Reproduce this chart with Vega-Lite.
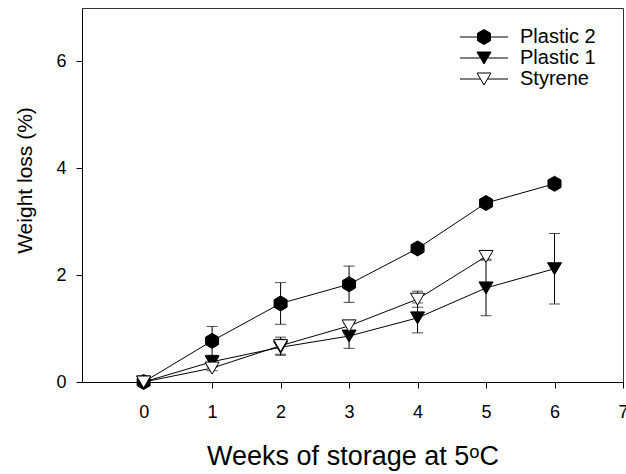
{
  "$schema": "https://vega.github.io/schema/vega-lite/v6.json",
  "width": 541,
  "height": 374,
  "autosize": {"type": "none"},
  "padding": {"left": 82, "top": 8, "right": 3, "bottom": 92},
  "background": "white",
  "config": {
    "font": "Liberation Sans",
    "view": {"stroke": "#333333", "strokeWidth": 1}
  },
  "data": {
    "values": [
      {"series": "Plastic 2", "week": 0, "mean": 0},
      {"series": "Plastic 2", "week": 1, "mean": 0.77, "lo": 0.50, "hi": 1.04},
      {"series": "Plastic 2", "week": 2, "mean": 1.47, "lo": 1.08, "hi": 1.86},
      {"series": "Plastic 2", "week": 3, "mean": 1.83, "lo": 1.49, "hi": 2.17},
      {"series": "Plastic 2", "week": 4, "mean": 2.50, "lo": 2.46, "hi": 2.54},
      {"series": "Plastic 2", "week": 5, "mean": 3.35, "lo": 3.31, "hi": 3.39},
      {"series": "Plastic 2", "week": 6, "mean": 3.71, "lo": 3.67, "hi": 3.75},
      {"series": "Plastic 1", "week": 0, "mean": 0},
      {"series": "Plastic 1", "week": 1, "mean": 0.38, "lo": 0.28, "hi": 0.48},
      {"series": "Plastic 1", "week": 2, "mean": 0.65, "lo": 0.50, "hi": 0.80},
      {"series": "Plastic 1", "week": 3, "mean": 0.86, "lo": 0.63, "hi": 1.09},
      {"series": "Plastic 1", "week": 4, "mean": 1.20, "lo": 0.92, "hi": 1.48},
      {"series": "Plastic 1", "week": 5, "mean": 1.76, "lo": 1.24, "hi": 2.28},
      {"series": "Plastic 1", "week": 6, "mean": 2.12, "lo": 1.46, "hi": 2.78},
      {"series": "Styrene", "week": 0, "mean": 0},
      {"series": "Styrene", "week": 1, "mean": 0.26, "lo": 0.21, "hi": 0.31},
      {"series": "Styrene", "week": 2, "mean": 0.68, "lo": 0.52, "hi": 0.84},
      {"series": "Styrene", "week": 3, "mean": 1.05, "lo": 0.95, "hi": 1.15},
      {"series": "Styrene", "week": 4, "mean": 1.55, "lo": 1.40, "hi": 1.70},
      {"series": "Styrene", "week": 5, "mean": 2.35, "lo": 2.30, "hi": 2.40}
    ]
  },
  "encoding": {
    "x": {
      "field": "week",
      "type": "quantitative",
      "scale": {"domain": [-0.9, 7], "nice": false, "zero": false},
      "axis": {
        "title": "Weeks of storage at 5ᵒC",
        "values": [0, 1, 2, 3, 4, 5, 6, 7],
        "grid": false,
        "domainColor": "black",
        "tickColor": "black",
        "tickSize": 6,
        "labelFontSize": 18,
        "labelPadding": 15,
        "labelColor": "black",
        "labelFlush": false,
        "labelOverlap": false,
        "titleFontSize": 27,
        "titleFontWeight": "normal",
        "titleColor": "black",
        "titleY": 82,
        "titleBaseline": "alphabetic"
      }
    },
    "y": {
      "field": "mean",
      "type": "quantitative",
      "title": "Weight loss (%)",
      "scale": {"domain": [0, 7], "nice": false},
      "axis": {
        "values": [0, 2, 4, 6],
        "grid": false,
        "domainColor": "black",
        "tickColor": "black",
        "tickSize": 6,
        "labelFontSize": 18,
        "labelPadding": 10,
        "labelColor": "black",
        "labelFlush": false,
        "titleFontSize": 21,
        "titleFontWeight": "normal",
        "titleColor": "black",
        "titleX": -51,
        "titleY": 172,
        "titleBaseline": "alphabetic"
      }
    }
  },
  "layer": [
    {
      "mark": {"type": "line", "strokeWidth": 1},
      "encoding": {
        "stroke": {
          "field": "series",
          "type": "nominal",
          "scale": {
            "domain": ["Plastic 2", "Plastic 1", "Styrene"],
            "range": ["black", "black", "black"]
          },
          "legend": {
            "orient": "none",
            "legendX": 392,
            "legendY": 19,
            "title": null,
            "padding": 0,
            "labelFontSize": 20,
            "labelColor": "black",
            "labelOffset": 26,
            "rowPadding": 1,
            "symbolSize": 225,
            "symbolStrokeWidth": 1,
            "symbolStrokeColor": "black",
            "symbolType": {"expr": "datum.value === 'Plastic 2' ? 'M-3.2,0H-0.866M0.866,0H3.2M0,-1L0.866,-0.5L0.866,0.5L0,1L-0.866,0.5L-0.866,-0.5Z' : 'M-3.2,0H-0.467M0.467,0H3.2M-0.933,-0.8L0.933,-0.8L0,0.8Z'"},
            "symbolFillColor": {"expr": "datum.value === 'Styrene' ? 'white' : 'black'"}
          }
        }
      }
    },
    {
      "transform": [{"filter": "isValid(datum.lo)"}],
      "mark": {"type": "rule", "color": "black", "strokeWidth": 1},
      "encoding": {
        "y": {"field": "lo", "type": "quantitative", "title": "Weight loss (%)"},
        "y2": {"field": "hi"}
      }
    },
    {
      "transform": [{"filter": "isValid(datum.lo)"}],
      "mark": {"type": "tick", "orient": "horizontal", "color": "black", "thickness": 1, "size": 11},
      "encoding": {
        "y": {"field": "lo", "type": "quantitative", "title": "Weight loss (%)"}
      }
    },
    {
      "transform": [{"filter": "isValid(datum.hi)"}],
      "mark": {"type": "tick", "orient": "horizontal", "color": "black", "thickness": 1, "size": 11},
      "encoding": {
        "y": {"field": "hi", "type": "quantitative", "title": "Weight loss (%)"}
      }
    },
    {
      "transform": [{"filter": "datum.series === 'Plastic 2'"}],
      "mark": {"type": "point", "shape": "M0,-1L0.866,-0.5L0.866,0.5L0,1L-0.866,0.5L-0.866,-0.5Z", "filled": true, "fill": "black", "opacity": 1, "stroke": "black", "strokeWidth": 1, "size": 225}
    },
    {
      "transform": [{"filter": "datum.series === 'Plastic 1'"}],
      "mark": {"type": "point", "shape": "M-0.933,-0.8L0.933,-0.8L0,0.8Z", "filled": true, "fill": "black", "opacity": 1, "stroke": "black", "strokeWidth": 1, "size": 225}
    },
    {
      "transform": [{"filter": "datum.series === 'Styrene'"}],
      "mark": {"type": "point", "shape": "M-0.933,-0.8L0.933,-0.8L0,0.8Z", "filled": true, "fill": "white", "opacity": 1, "stroke": "black", "strokeWidth": 1, "size": 225}
    }
  ]
}
